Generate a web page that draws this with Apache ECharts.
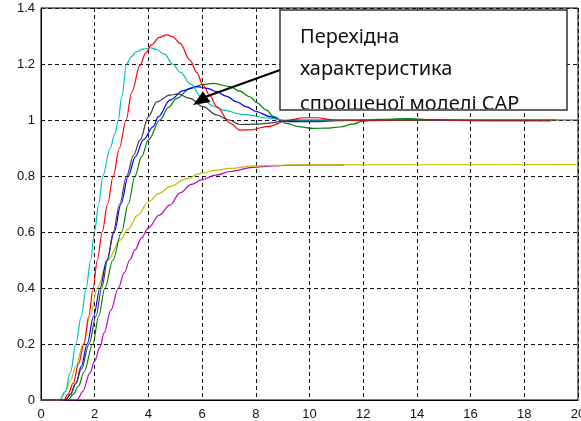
<!DOCTYPE html>
<html>
<head>
<meta charset="utf-8">
<script src="https://cdn.jsdelivr.net/npm/echarts@6/dist/echarts.min.js"></script>
<style>
html,body{margin:0;padding:0;background:#fff;}
#chart{width:581px;height:421px;}
</style>
</head>
<body>
<div id="chart"></div>
<script>
// ---- data: [time, response] pairs ----
const cyanCurve = [[0,0],[0.7,0],[0.9,0.03],[1.1,0.1],[1.3,0.2],[1.5,0.3],[1.68,0.4],[1.85,0.5],[1.99,0.6],[2.15,0.7],[2.3,0.8],[2.58,0.9],[2.75,0.95],[2.88,1.0],[3.0,1.08],[3.19,1.2],[3.35,1.225],[3.56,1.244],[3.8,1.253],[4.06,1.258],[4.3,1.252],[4.6,1.235],[4.9,1.2],[5.2,1.17],[5.55,1.13],[6.0,1.08],[6.4,1.05],[6.8,1.035],[7.5,1.02],[8.5,1.007],[9,1.0],[10,0.998],[12,1.0],[15.5,1.0]];
const redCurve = [[0,0],[0.85,0],[1.0,0.02],[1.2,0.06],[1.4,0.13],[1.6,0.2],[1.78,0.3],[1.94,0.4],[2.1,0.5],[2.28,0.6],[2.48,0.7],[2.69,0.8],[2.92,0.9],[3.17,1.0],[3.38,1.1],[3.69,1.196],[3.9,1.24],[4.12,1.268],[4.4,1.295],[4.68,1.304],[4.9,1.298],[5.18,1.274],[5.55,1.214],[5.8,1.17],[6.03,1.125],[6.3,1.085],[6.54,1.048],[7.04,0.989],[7.41,0.964],[7.8,0.965],[8.4,0.976],[9.27,1.0],[9.76,1.008],[10.27,1.008],[10.9,1.0],[12,0.998],[14,1.0],[17,0.997],[19,0.997]];
const blackCurve = [[0,0],[0.9,0],[1.1,0.02],[1.3,0.06],[1.5,0.11],[1.79,0.2],[2.05,0.3],[2.26,0.4],[2.48,0.5],[2.69,0.6],[2.93,0.7],[3.19,0.8],[3.45,0.875],[3.69,0.929],[4.0,1.012],[4.31,1.065],[4.8,1.089],[5.1,1.093],[5.55,1.077],[6.03,1.048],[6.54,1.018],[7.0,1.0],[7.4,0.984],[8.0,0.985],[8.4,0.988],[9.0,0.995],[9.5,1.0],[20,1.0]];
const blueCurve = [[0,0],[0.9,0],[1.1,0.02],[1.3,0.06],[1.5,0.12],[1.72,0.2],[1.96,0.3],[2.2,0.4],[2.45,0.5],[2.73,0.6],[2.98,0.7],[3.25,0.8],[3.52,0.87],[3.81,0.929],[4.18,0.976],[4.37,1.012],[4.8,1.071],[5.3,1.105],[5.8,1.119],[6.2,1.113],[6.54,1.101],[6.9,1.085],[7.29,1.065],[7.65,1.047],[8.03,1.03],[8.53,1.012],[9.0,0.998],[9.27,0.994],[10.27,0.994],[11,0.998],[12,1.0],[15,1.0]];
const greenCurve = [[0,0],[1.0,0],[1.2,0.02],[1.4,0.05],[1.6,0.1],[1.93,0.2],[2.15,0.3],[2.38,0.4],[2.68,0.5],[3.0,0.6],[3.25,0.7],[3.5,0.8],[3.75,0.87],[4.0,0.929],[4.43,1.0],[4.75,1.045],[5.05,1.077],[5.55,1.113],[6.05,1.127],[6.42,1.131],[7.04,1.119],[7.4,1.103],[7.78,1.083],[8.03,1.062],[8.4,1.035],[8.65,1.012],[9.15,0.988],[9.6,0.976],[10.14,0.97],[10.6,0.971],[11.14,0.975],[11.6,0.985],[12.0,0.996],[12.5,1.002],[13.7,1.005],[14.5,1.001],[16,1.0],[19.2,1.0]];
const magentaCurve = [[0,0],[1.35,0],[1.55,0.03],[1.82,0.096],[2.0,0.14],[2.2,0.19],[2.35,0.24],[2.6,0.32],[2.88,0.4],[3.1,0.455],[3.31,0.5],[3.5,0.536],[3.75,0.58],[4.0,0.615],[4.4,0.66],[4.8,0.696],[5.18,0.74],[5.6,0.77],[5.98,0.786],[6.5,0.803],[7.04,0.816],[7.9,0.831],[8.6,0.836],[9.5,0.839],[11.3,0.84]];
const yellowCurve = [[0,0],[0.7,0],[0.9,0.03],[1.1,0.07],[1.3,0.12],[1.57,0.2],[1.83,0.3],[2.1,0.4],[2.5,0.5],[2.94,0.571],[3.25,0.61],[3.6,0.66],[4.0,0.708],[4.4,0.738],[4.8,0.762],[5.4,0.79],[5.98,0.81],[6.5,0.82],[7.04,0.827],[7.97,0.836],[9,0.839],[10.4,0.84],[20,0.841]];

const xTicks = {min: 0, max: 20, step: 2};
const yTicks = {min: 0, max: 1.4, step: 0.2};
const noteLines = ['Перехідна', 'характеристика', 'спрощеної моделі САР'];

const seriesDefs = [
  {name: 'm', data: magentaCurve, color: '#bf00bf'},
  {name: 'y', data: yellowCurve, color: '#bfbf00'},
  {name: 'g', data: greenCurve, color: '#008000'},
  {name: 'b', data: blueCurve, color: '#0000ff'},
  {name: 'c', data: cyanCurve, color: '#00bfbf'},
  {name: 'r', data: redCurve, color: '#ff0000'},
  {name: 'k', data: blackCurve, color: '#404040'}
];

const chart = echarts.init(document.getElementById('chart'), null, {renderer: 'canvas'});
const gridDash = {type: [4, 3], color: '#111', width: 1};
chart.setOption({
  animation: false,
  backgroundColor: '#fff',
  grid: {left: 41, right: 3, top: 8, bottom: 21, show: true, borderColor: '#000', borderWidth: 1, backgroundColor: 'transparent',
    containLabel: false, outerBoundsMode: 'none'},
  xAxis: {
    type: 'value', min: xTicks.min, max: xTicks.max, interval: xTicks.step,
    axisLine: {show: true, onZero: false, lineStyle: {color: '#000', width: 1}},
    axisTick: {show: false},
    splitLine: {show: true, lineStyle: gridDash},
    axisLabel: {fontFamily: 'Liberation Sans', fontSize: 13, color: '#111', margin: 8, showMaxLabel: true, showMinLabel: true,
      alignMaxLabel: 'center', alignMinLabel: 'center', hideOverlap: false}
  },
  yAxis: {
    type: 'value', min: yTicks.min, max: yTicks.max, interval: yTicks.step,
    axisLine: {show: true, onZero: false, lineStyle: {color: '#000', width: 1}},
    axisTick: {show: false},
    splitLine: {show: true, lineStyle: gridDash},
    axisLabel: {fontFamily: 'Liberation Sans', fontSize: 13, color: '#111', margin: 6,
      formatter: v => String(parseFloat(v.toFixed(1))), showMaxLabel: true,
      verticalAlignMaxLabel: 'middle', verticalAlignMinLabel: 'middle'}
  },
  series: seriesDefs.map(s => ({
    name: s.name, type: 'line', data: s.data, showSymbol: false, symbol: 'none',
    smooth: 0.35, smoothMonotone: 'x', clip: true,
    lineStyle: {color: s.color, width: 1.2}, z: 3
  })),
  graphic: [
    {type: 'line', z: 50, shape: {x1: 280, y1: 70, x2: 205, y2: 97}, style: {stroke: '#000', lineWidth: 2}},
    {type: 'polygon', z: 50, shape: {points: [[193, 105], [203, 91.5], [210.5, 102]]}, style: {fill: '#000'}}
  ]
});

// annotation box with the third line clipped by the frame
const zr = chart.getZr();
const box = new echarts.graphic.Rect({shape: {x: 280, y: 10, width: 287, height: 100}, style: {fill: '#fff', stroke: '#333', lineWidth: 1.5}, z: 99, zlevel: 0});
zr.add(box);
const lineY = [37, 69, 104];
noteLines.forEach((txt, i) => {
  const t = new echarts.graphic.Text({
    style: {text: txt, x: 300, y: lineY[i], fill: '#111', font: '20px "Noto Sans"', verticalAlign: 'middle', align: 'left'},
    z: 100, zlevel: 0
  });
  t.setClipPath(new echarts.graphic.Rect({shape: {x: 281, y: 11, width: 285, height: 98}}));
  zr.add(t);
});
</script>
</body>
</html>
